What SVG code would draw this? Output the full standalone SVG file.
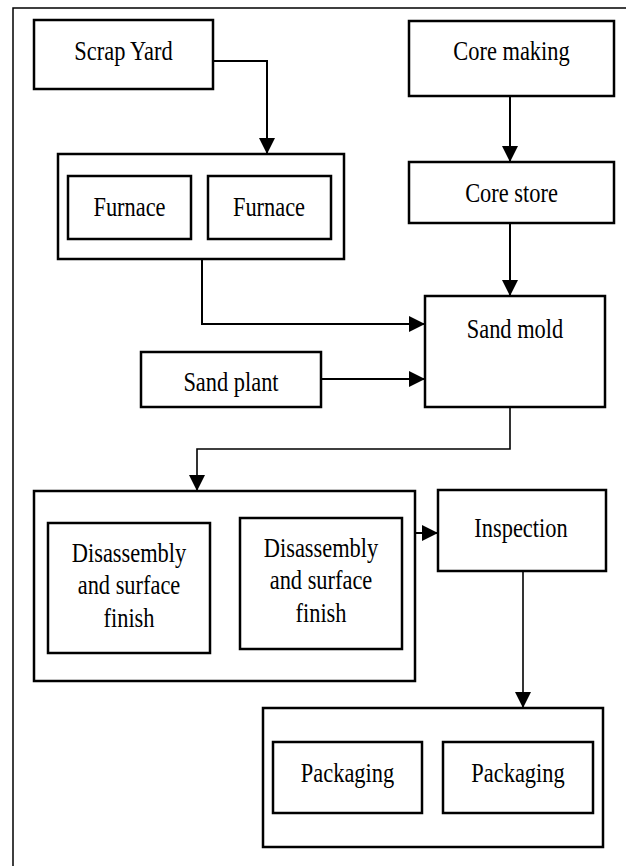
<svg xmlns="http://www.w3.org/2000/svg" width="626" height="866" viewBox="0 0 626 866">
<defs>
<style>
.box{fill:#fff;stroke:#000;stroke-width:2.5}
.frame{fill:none;stroke:#000;stroke-width:1.5}
.con{fill:none;stroke:#000;stroke-width:2}
.thin{fill:none;stroke:#000;stroke-width:1.6}
.t{font-family:"Liberation Serif","Times New Roman",serif;font-size:27px;fill:#000;text-anchor:middle}
</style>
<marker id="ah" viewBox="0 0 16 16" refX="16" refY="8" markerWidth="18" markerHeight="16" markerUnits="userSpaceOnUse" orient="auto">
<path d="M0,0 L16,8 L0,16 Z" fill="#000"/>
</marker>
</defs>
<rect width="626" height="866" fill="#fff"/>
<path class="frame" d="M13,866 V8 H626"/>

<g id="scrap-yard">
<rect class="box" x="34" y="20" width="179" height="69"/>
<text class="t" transform="translate(123.5,60) scale(0.83,1)">Scrap Yard</text>
</g>

<g id="furnace-group">
<rect class="box" x="58" y="154" width="286" height="105"/>
<g id="furnace-1">
<rect class="box" x="68" y="176" width="123" height="63"/>
<text class="t" transform="translate(129.5,216) scale(0.83,1)">Furnace</text>
</g>
<g id="furnace-2">
<rect class="box" x="208" y="176" width="123" height="63"/>
<text class="t" transform="translate(269,216) scale(0.83,1)">Furnace</text>
</g>
</g>

<g id="core-making">
<rect class="box" x="409" y="21" width="205" height="75"/>
<text class="t" transform="translate(511.5,60) scale(0.83,1)">Core making</text>
</g>

<g id="core-store">
<rect class="box" x="409" y="162" width="205" height="61"/>
<text class="t" transform="translate(511.5,201.5) scale(0.83,1)">Core store</text>
</g>

<g id="sand-mold">
<rect class="box" x="425" y="296" width="180" height="111"/>
<text class="t" transform="translate(515,338) scale(0.83,1)">Sand mold</text>
</g>

<g id="sand-plant">
<rect class="box" x="141" y="352" width="180" height="55"/>
<text class="t" transform="translate(231,390.5) scale(0.83,1)">Sand plant</text>
</g>

<g id="disassembly-group">
<rect class="box" x="34" y="491" width="381" height="190"/>
<g id="disassembly-1">
<rect class="box" x="48" y="523" width="162" height="130"/>
<text class="t" transform="translate(129,561.5) scale(0.83,1)">Disassembly</text>
<text class="t" transform="translate(129,593.5) scale(0.83,1)">and surface</text>
<text class="t" transform="translate(129,626.5) scale(0.83,1)">finish</text>
</g>
<g id="disassembly-2">
<rect class="box" x="240" y="518" width="162" height="131"/>
<text class="t" transform="translate(321,557) scale(0.83,1)">Disassembly</text>
<text class="t" transform="translate(321,589) scale(0.83,1)">and surface</text>
<text class="t" transform="translate(321,622) scale(0.83,1)">finish</text>
</g>
</g>

<g id="inspection">
<rect class="box" x="438" y="490" width="168" height="81"/>
<text class="t" transform="translate(521,537) scale(0.83,1)">Inspection</text>
</g>

<g id="packaging-group">
<rect class="box" x="263" y="708" width="340" height="139"/>
<g id="packaging-1">
<rect class="box" x="273" y="742" width="149" height="71"/>
<text class="t" transform="translate(347.5,781.5) scale(0.83,1)">Packaging</text>
</g>
<g id="packaging-2">
<rect class="box" x="443" y="742" width="150" height="71"/>
<text class="t" transform="translate(518,781.5) scale(0.83,1)">Packaging</text>
</g>
</g>

<g id="connectors">
<path class="con" d="M213,61 H267 V154" marker-end="url(#ah)"/>
<path class="con" d="M510,96 V162" marker-end="url(#ah)"/>
<path class="con" d="M510,223 V296" marker-end="url(#ah)"/>
<path class="con" d="M202,259 V324 H425" marker-end="url(#ah)"/>
<path class="con" d="M321,379 H425" marker-end="url(#ah)"/>
<path class="thin" d="M510,407 V449 H197 V491" marker-end="url(#ah)"/>
<path class="con" d="M415,533 H438" marker-end="url(#ah)"/>
<path class="thin" d="M523,571 V708" marker-end="url(#ah)"/>
</g>
</svg>
